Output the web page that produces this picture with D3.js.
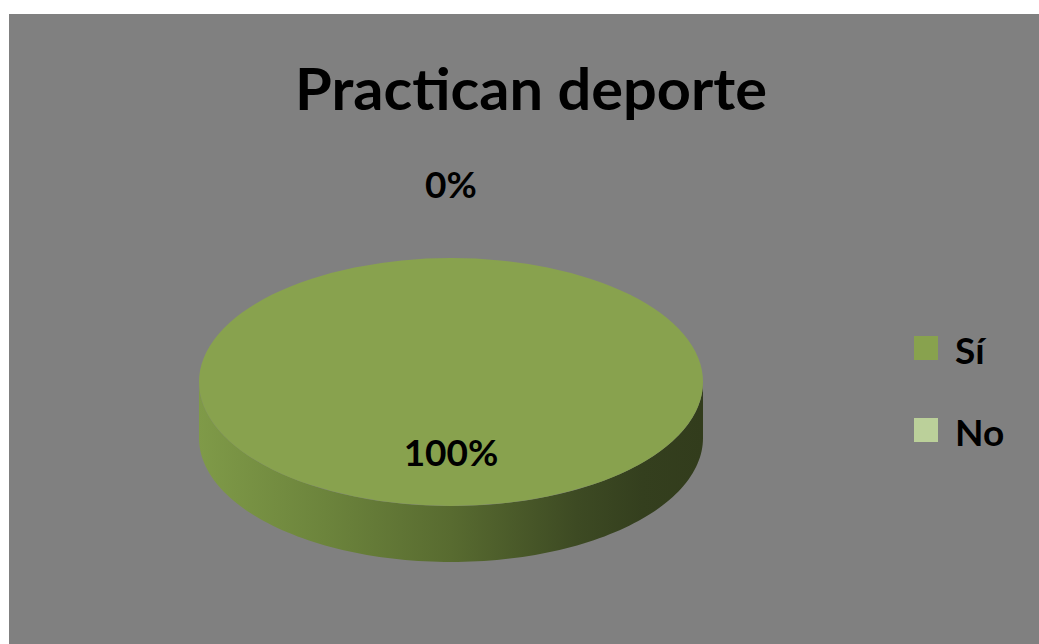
<!DOCTYPE html>
<html>
<head>
<meta charset="utf-8">
<script src="https://cdn.jsdelivr.net/npm/d3@7"></script>
<style>
  html, body { margin: 0; padding: 0; background: #ffffff; }
  svg { display: block; }
  text { font-family: Lato, "Open Sans", "DejaVu Sans", sans-serif; font-weight: 700; fill: #000; }
</style>
</head>
<body>
<svg id="chart" width="1039" height="644"></svg>
<script>
// Survey answers: share of people who practise a sport
const categories = ["Sí", "No"];
const values = [100, 0];
const percentLabels = ["100%", "0%"];
const titleText = "Practican deporte";

const topColors = ["#88a24e", "#bbd09a"];

const W = 1039, H = 644;
const svg = d3.select("#chart");

// plot area panel
svg.append("rect")
  .attr("x", 9).attr("y", 14)
  .attr("width", W - 9).attr("height", H - 14)
  .attr("fill", "#808080");

// title
svg.append("text")
  .attr("x", 531).attr("y", 110)
  .attr("text-anchor", "middle")
  .attr("font-size", 58)
  .attr("textLength", 472)
  .attr("lengthAdjust", "spacingAndGlyphs")
  .text(titleText);

// 3D pie geometry (ellipse seen at an angle)
const cx = 451, cy = 382, rx = 252, ry = 124, depth = 56;

const pie = d3.pie().sort(null).value(d => d.value);
const data = categories.map((c, i) => ({ name: c, value: values[i], label: percentLabels[i], color: topColors[i] }));
const arcs = pie(data);

// side wall gradient (lit from the left)
const defs = svg.append("defs");
const grad = defs.append("linearGradient")
  .attr("id", "sideGrad")
  .attr("gradientUnits", "userSpaceOnUse")
  .attr("x1", cx - rx).attr("x2", cx + rx)
  .attr("y1", 0).attr("y2", 0);
[[0, "#7f9a48"], [0.25, "#6c843c"], [0.5, "#586b30"], [0.75, "#3d4a23"], [0.88, "#343f1e"], [1, "#323c1c"]]
  .forEach(([o, c]) => grad.append("stop").attr("offset", o).attr("stop-color", c));

// point on the ellipse rim for a d3 pie angle (0 = top, clockwise)
const rim = (a, dy = 0) => [cx + rx * Math.sin(a), cy - ry * Math.cos(a) + dy];

const g = svg.append("g");

// front-facing side walls: clip each slice's angular span to the front half (π/2 .. 3π/2)
arcs.forEach(a => {
  if (a.endAngle - a.startAngle <= 0) return;
  const s = Math.max(a.startAngle, Math.PI / 2);
  const e = Math.min(a.endAngle, 3 * Math.PI / 2);
  if (e <= s) return;
  const n = 120;
  const angs = d3.range(n + 1).map(i => s + (e - s) * i / n);
  const topPts = angs.map(t => rim(t));
  const botPts = angs.slice().reverse().map(t => rim(t, depth));
  g.append("path")
    .attr("d", d3.line()(topPts.concat(botPts)) + "Z")
    .attr("fill", "url(#sideGrad)");
});

// top faces: circular arcs squashed into the ellipse
const arcGen = d3.arc().innerRadius(0).outerRadius(rx);
g.selectAll("path.top")
  .data(arcs.filter(a => a.endAngle - a.startAngle > 0))
  .join("path")
  .attr("class", "top")
  .attr("transform", `translate(${cx},${cy}) scale(1,${ry / rx})`)
  .attr("d", arcGen)
  .attr("fill", d => d.data.color);

// percentage labels: inside for large slices, outside for empty ones
arcs.forEach(a => {
  const mid = (a.startAngle + a.endAngle) / 2;
  const k = (a.endAngle - a.startAngle) > 0.3 ? 0.57 : 1.59;
  const x = cx + rx * k * Math.sin(mid);
  const y = cy - ry * k * Math.cos(mid);
  svg.append("text")
    .attr("x", x).attr("y", y)
    .attr("dy", "0.36em")
    .attr("text-anchor", "middle")
    .attr("font-size", 37)
    .text(a.data.label);
});

// legend
const legend = svg.append("g").attr("transform", "translate(914,336)");
const li = legend.selectAll("g").data(data).join("g")
  .attr("transform", (d, i) => `translate(0,${i * 82})`);
li.append("rect").attr("width", 24).attr("height", 24).attr("fill", d => d.color);
li.append("text").attr("x", 41).attr("y", 28).attr("font-size", 37).text(d => d.name);
</script>
</body>
</html>
